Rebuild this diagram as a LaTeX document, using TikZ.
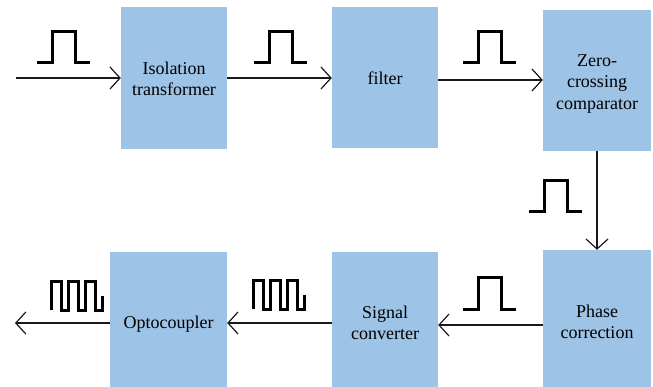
\documentclass[tikz,border=0pt]{standalone}
\usepackage{fontspec}
\setmainfont{Liberation Serif}
\newfontfamily\timesf{Liberation Serif}
\usetikzlibrary{arrows.meta}
\definecolor{boxblue}{RGB}{157,195,230}
\newcommand{\pulsepath}{-- ++(15,0) -- ++(0,-31) -- ++(23,0) -- ++(0,31) -- ++(15,0)}
\newcommand{\sqwavepath}{-- ++(0,-28) -- ++(10,0) -- ++(0,28) -- ++(7,0) -- ++(0,-28) -- ++(10,0) -- ++(0,28) -- ++(7,0) -- ++(0,-28) -- ++(10,0) -- ++(0,28) -- ++(7,0) -- ++(0,-14)}
\begin{document}
\begin{tikzpicture}[x=1pt,y=-1pt,
  blk/.style={fill=boxblue, draw=none, inner sep=0pt},
  lbl/.style={align=center, font=\timesf\fontsize{18}{21.5}\selectfont, inner sep=0pt, text=black},
  arr/.style={line width=1.2pt, draw=black!90, -{Straight Barb[length=10pt,width=22pt,line width=1.2pt]}},
  sig/.style={line width=3pt, line join=miter, line cap=butt}]
\useasboundingbox (0,0) rectangle (653,387);
% boxes
\node[blk, minimum width=106pt, minimum height=142pt] (iso) at (174,78) {};
\node[blk, minimum width=106pt, minimum height=141pt] (fil) at (385,77.5) {};
\node[blk, minimum width=108pt, minimum height=141pt] (zc) at (597,80.5) {};
\node[blk, minimum width=108pt, minimum height=137pt] (ph) at (597,318.5) {};
\node[blk, minimum width=106pt, minimum height=135pt] (sc) at (385,319.5) {};
\node[blk, minimum width=117pt, minimum height=135pt] (oc) at (168.5,319.5) {};
% labels
\node[lbl] (isoT) at (174,79) {Isolation\\transformer};
\node[lbl] (filT) at (385,78) {filter};
\node[lbl] (zcT) at (597,84) {Zero-\\crossing\\comparator};
\node[lbl] (phT) at (597,322) {Phase\\correction};
\node[lbl] (scT) at (385,323) {Signal\\converter};
\node[lbl] (ocT) at (168.5,324) {Optocoupler};
% connector ends
\coordinate (inS) at (16,78);
\coordinate (outE) at (15,323);
\coordinate (a2) at (0,80);
\coordinate (a5) at (0,325);
\coordinate (a6) at (0,323);
% connectors
\draw[arr] (inS) -- (iso.west |- inS);
\draw[arr] (iso.east |- inS) -- (fil.west |- inS);
\draw[arr] (fil.east |- a2) -- (zc.west |- a2);
\draw[arr] (zc.south) -- (ph.north);
\draw[arr] (ph.west |- a5) -- (sc.east |- a5);
\draw[arr] (sc.west |- a6) -- (oc.east |- a6);
\draw[arr] (oc.west |- a6) -- (outE);
% signal shapes
\draw[sig] (37,63) \pulsepath;
\draw[sig] (254,63) \pulsepath;
\draw[sig] (463,63) \pulsepath;
\draw[sig] (529,212) \pulsepath;
\draw[sig] (463,309) \pulsepath;
\draw[sig] (51,310) \sqwavepath;
\draw[sig] (253,309) \sqwavepath;
\end{tikzpicture}
\end{document}
